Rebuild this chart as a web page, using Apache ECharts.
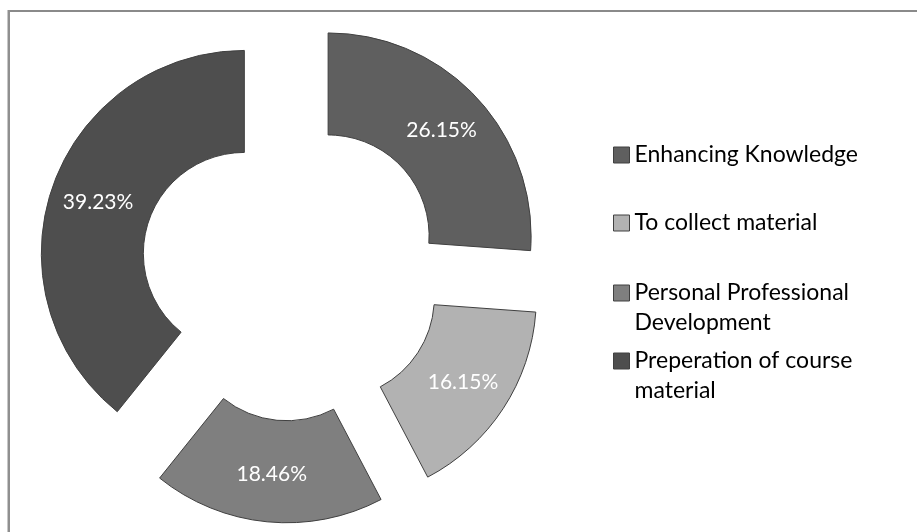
<!DOCTYPE html>
<html>
<head>
<meta charset="utf-8">
<script src="https://cdn.jsdelivr.net/npm/echarts@6/dist/echarts.min.js"></script>
<style>
html,body{margin:0;padding:0;background:#fff;}
#c{width:917px;height:532px;}
</style>
</head>
<body>
<div id="c"></div>
<script>
const categories = ['Enhancing Knowledge', 'To collect material', 'Personal Professional Development', 'Preperation of course material'];
const legendLabels = ['Enhancing Knowledge', 'To collect material', 'Personal Professional\nDevelopment', 'Preperation of course\nmaterial'];
const values = [26.15, 16.15, 18.46, 39.23];
const colors = ['#5f5f5f', '#b2b2b2', '#7f7f7f', '#4e4e4e'];

const FONT = 'Lato';
const LH = 30;
const legendTops = [140, 208, 248, 316];

const chart = echarts.init(document.getElementById('c'), null, {renderer: 'canvas'});

const legends = categories.map((name, i) => {
  const multi = legendLabels[i].indexOf('\n') >= 0;
  return {
    show: true,
    orient: 'vertical',
    left: 613,
    top: legendTops[i],
    padding: 0,
    itemWidth: 16,
    itemHeight: 16,
    itemGap: 0,
    selectedMode: false,
    icon: 'rect',
    data: [name],
    formatter: () => (multi ? ' \n' : '') + legendLabels[i],
    textStyle: {
      fontFamily: FONT,
      fontSize: 23,
      color: '#000',
      lineHeight: LH
    },
    itemStyle: {borderColor: '#404040', borderWidth: 1}
  };
});

chart.setOption({
  animation: false,
  backgroundColor: '#fff',
  legend: legends,
  graphic: [
    {type: 'rect', shape: {x: 8, y: 10, width: 909, height: 2}, style: {fill: '#8a8a8a'}, silent: true},
    {type: 'rect', shape: {x: 7.5, y: 10, width: 2.5, height: 522}, style: {fill: '#8f8f8f'}, silent: true}
  ],
  series: [{
    type: 'pie',
    center: [291.5, 270],
    radius: [101, 203],
    startAngle: 90,
    clockwise: true,
    selectedMode: 'multiple',
    selectedOffset: 50,
    avoidLabelOverlap: false,
    label: {
      show: true,
      position: 'inside',
      formatter: (p) => p.value.toFixed(2) + '%',
      color: '#ffffff',
      fontFamily: FONT,
      fontSize: 21
    },
    labelLine: {show: false},
    itemStyle: {borderColor: '#404040', borderWidth: 1},
    emphasis: {disabled: true},
    select: {
      itemStyle: {borderColor: '#404040', borderWidth: 1},
      label: {color: '#ffffff'}
    },
    data: categories.map((name, i) => ({
      name: name,
      value: values[i],
      selected: true,
      itemStyle: {color: colors[i]},
      select: {itemStyle: {color: colors[i], borderColor: '#404040', borderWidth: 1}}
    }))
  }]
});
</script>
</body>
</html>
